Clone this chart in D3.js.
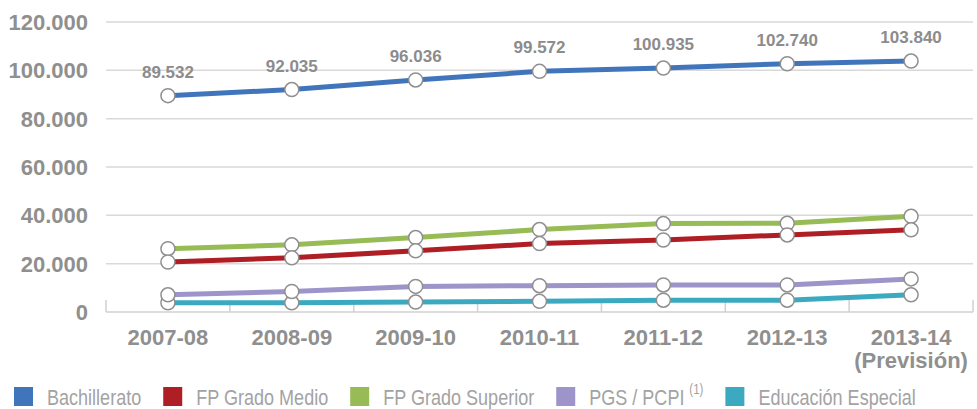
<!DOCTYPE html>
<html><head><meta charset="utf-8">
<script src="https://cdn.jsdelivr.net/npm/d3@7"></script>
<style>
body{margin:0;background:#fff;}
svg{display:block;}
</style></head>
<body>
<svg id="chart" width="977" height="409"></svg>
<script>
const categories = ["2007-08","2008-09","2009-10","2010-11","2011-12","2012-13","2013-14\n(Previsión)"];
const bachillerato = [89532, 92035, 96036, 99572, 100935, 102740, 103840];
const fpGradoMedio = [20700, 22400, 25300, 28300, 29800, 31900, 34000];
const fpGradoSuperior = [26200, 27800, 30800, 34100, 36600, 36700, 39600];
const pgsPcpi = [7100, 8500, 10600, 10900, 11200, 11200, 13700];
const educacionEspecial = [3800, 3800, 4100, 4400, 4900, 4900, 7100];
const yTicks = [0, 20000, 40000, 60000, 80000, 100000, 120000];
const seriesNames = ["Bachillerato","FP Grado Medio","FP Grado Superior","PGS / PCPI","Educación Especial"];
const seriesColors = ["#4075bb","#ae1e24","#97bb55","#9d95c9","#3baac1"];

const series = [
  {name: seriesNames[0], values: bachillerato, color: seriesColors[0]},
  {name: seriesNames[1], values: fpGradoMedio, color: seriesColors[1]},
  {name: seriesNames[2], values: fpGradoSuperior, color: seriesColors[2]},
  {name: seriesNames[3], values: pgsPcpi, color: seriesColors[3], sup: "(1)"},
  {name: seriesNames[4], values: educacionEspecial, color: seriesColors[4]}
];

const svg = d3.select("#chart");
const font = "'Liberation Sans', Arial, sans-serif";

const x = d3.scaleBand().domain(categories).range([106, 973]);
const y = d3.scaleLinear().domain([0, 120000]).range([312, 22]);
const fmt = v => d3.format(",")(v).replace(/,/g, ".");

// grid lines
svg.append("g").selectAll("line").data(yTicks.filter(d => d > 0)).join("line")
  .attr("x1", 106).attr("x2", 973)
  .attr("y1", d => y(d)).attr("y2", d => y(d))
  .attr("stroke", "#d9d9d9").attr("stroke-width", 1.5);

// y labels
svg.append("g").selectAll("text").data(yTicks).join("text")
  .attr("x", 88).attr("y", d => y(d)).attr("dy", "0.36em")
  .attr("text-anchor", "end")
  .attr("font-family", font).attr("font-weight", "bold").attr("font-size", 22)
  .attr("fill", "#8f8f8f")
  .text(d => fmt(d));

// x axis
const xAxis = svg.append("g");
xAxis.append("line").attr("x1", 106).attr("x2", 973).attr("y1", y(0)).attr("y2", y(0))
  .attr("stroke", "#d0d0d0").attr("stroke-width", 1.5);
const boundaries = categories.map(c => x(c)).concat([x(categories[categories.length-1]) + x.bandwidth()]);
xAxis.selectAll("line.tick").data(boundaries).join("line").attr("class","tick")
  .attr("x1", d => d).attr("x2", d => d).attr("y1", y(0) - 12).attr("y2", y(0))
  .attr("stroke", "#d0d0d0").attr("stroke-width", 1.5);
const xl = xAxis.selectAll("text").data(categories).join("text")
  .attr("x", d => x(d) + x.bandwidth()/2).attr("y", 345)
  .attr("text-anchor", "middle")
  .attr("font-family", font).attr("font-weight", "bold").attr("font-size", 22)
  .attr("fill", "#8f8f8f");
xl.each(function(d){
  const lines = d.split("\n");
  const t = d3.select(this);
  lines.forEach((l, i) => {
    t.append("tspan").attr("x", x(d) + x.bandwidth()/2).attr("dy", i === 0 ? 0 : 23).text(l);
  });
});

// lines
const line = d3.line().x((d, i) => x(categories[i]) + x.bandwidth()/2).y(d => y(d));
const plot = svg.append("g");
series.slice().reverse().forEach(s => {
  plot.append("path").datum(s.values).attr("d", line)
    .attr("fill", "none").attr("stroke", s.color).attr("stroke-width", 5)
    .attr("stroke-linejoin", "round");
});
series.slice().reverse().forEach(s => {
  plot.append("g").selectAll("circle").data(s.values).join("circle")
    .attr("cx", (d, i) => x(categories[i]) + x.bandwidth()/2)
    .attr("cy", d => y(d)).attr("r", 7)
    .attr("fill", "#fff").attr("stroke", "#8f8f8f").attr("stroke-width", 1.5);
});

// data labels for Bachillerato
svg.append("g").selectAll("text").data(bachillerato).join("text")
  .attr("x", (d, i) => x(categories[i]) + x.bandwidth()/2)
  .attr("y", d => y(d) - 18)
  .attr("text-anchor", "middle")
  .attr("font-family", font).attr("font-weight", "bold").attr("font-size", 17)
  .attr("fill", "#8c8c8c")
  .text(d => fmt(d));

// legend (condensed look via horizontal scale)
const sx = 0.82;
const legend = svg.append("g");
let lx = 14;
series.forEach(s => {
  legend.append("rect").attr("x", lx).attr("y", 387).attr("width", 19).attr("height", 19).attr("fill", s.color);
  const tx = lx + 33;
  const g = legend.append("g").attr("transform", `translate(${tx},405) scale(${sx},1)`);
  const t = g.append("text").attr("x", 0).attr("y", 0)
    .attr("font-family", font).attr("font-size", 22).attr("fill", "#a3a3a3")
    .text(s.name);
  let w = t.node().getComputedTextLength();
  if (s.sup) {
    const st = g.append("text").attr("x", w + 6).attr("y", -11)
      .attr("font-family", font).attr("font-size", 14).attr("fill", "#a3a3a3").text(s.sup);
    w += 6 + st.node().getComputedTextLength();
  }
  lx = tx + w * sx + 22;
});
</script>
</body></html>
